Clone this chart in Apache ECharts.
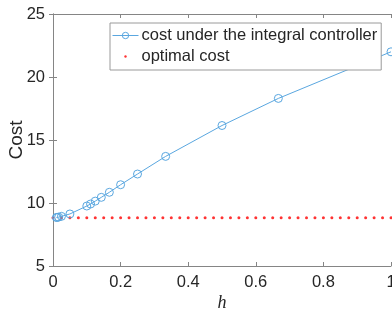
<!DOCTYPE html>
<html>
<head>
<meta charset="utf-8">
<script src="https://cdn.jsdelivr.net/npm/echarts@6/dist/echarts.min.js"></script>
<style>
  html, body { margin: 0; padding: 0; background: #fff; }
  #chart { width: 392px; height: 311px; }
</style>
</head>
<body>
<div id="chart"></div>
<script>
  // sample period h and the cost under the integral controller
  var hValues = [1, 0.6667, 0.5, 0.3333, 0.25, 0.2, 0.1667, 0.1429, 0.125, 0.1111, 0.1, 0.05, 0.025, 0.0167, 0.0125, 0.01]
  var costValues = [22.0, 18.3, 16.15, 13.7, 12.3, 11.45, 10.85, 10.45, 10.15, 9.92, 9.76, 9.13, 8.94, 8.88, 8.86, 8.85]

  // optimal cost, drawn as red dots along h
  var optimalCost = 8.83
  var optimalH = [0, 0.025, 0.05, 0.075, 0.1, 0.125, 0.15, 0.175, 0.2, 0.225, 0.25, 0.275, 0.3, 0.325, 0.35, 0.375,
    0.4, 0.425, 0.45, 0.475, 0.5, 0.525, 0.55, 0.575, 0.6, 0.625, 0.65, 0.675, 0.7, 0.725, 0.75, 0.775,
    0.8, 0.825, 0.85, 0.875, 0.9, 0.925, 0.95, 0.975, 1]

  var xTicks = [0, 0.2, 0.4, 0.6, 0.8, 1]
  var yTicks = [5, 10, 15, 20, 25]

  var textColor = '#262626'
  var axisColor = '#858585'
  var blue = '#5aa7e0'

  var chart = echarts.init(document.getElementById('chart'))

  var lineData = hValues.map(function (h, i) { return [h, costValues[i]] })
  var optData = optimalH.map(function (h) { return [h, optimalCost] })

  function axisBase() {
    return {
      type: 'value',
      axisLine: { show: true, lineStyle: { color: axisColor, width: 1 } },
      axisTick: { show: true, inside: true, length: 4, lineStyle: { color: axisColor } },
      splitLine: { show: false }
    }
  }

  var xBottom = axisBase()
  Object.assign(xBottom, {
    position: 'bottom',
    min: xTicks[0],
    max: xTicks[xTicks.length - 1],
    interval: 0.2,
    name: 'h',
    nameLocation: 'middle',
    nameGap: 28,
    nameMoveOverlap: false,
    nameTextStyle: { fontFamily: 'Liberation Serif', fontStyle: 'italic', fontSize: 18, color: textColor },
    axisLabel: {
      margin: 8,
      fontSize: 16.5,
      color: textColor,
      fontFamily: 'Liberation Sans',
      formatter: function (v) { return String(Math.round(v * 10) / 10) }
    }
  })
  var xTop = axisBase()
  Object.assign(xTop, {
    position: 'top',
    min: xTicks[0],
    max: xTicks[xTicks.length - 1],
    interval: 0.2,
    axisLabel: { show: false }
  })

  var yLeft = axisBase()
  Object.assign(yLeft, {
    position: 'left',
    min: yTicks[0],
    max: yTicks[yTicks.length - 1],
    interval: 5,
    name: 'Cost',
    nameLocation: 'middle',
    nameGap: 27,
    nameMoveOverlap: false,
    nameTextStyle: { fontSize: 19, color: textColor, fontFamily: 'Liberation Sans' },
    axisLabel: { margin: 8, fontSize: 16.5, color: textColor, fontFamily: 'Liberation Sans' }
  })
  var yRight = axisBase()
  Object.assign(yRight, {
    position: 'right',
    min: yTicks[0],
    max: yTicks[yTicks.length - 1],
    interval: 5,
    axisLabel: { show: false }
  })

  chart.setOption({
    backgroundColor: '#fff',
    animation: false,
    grid: { left: 53, right: 1, top: 14, bottom: 45, containLabel: false, outerBoundsMode: 'none' },
    legend: {
      left: 110,
      top: 23,
      orient: 'vertical',
      backgroundColor: '#fff',
      borderColor: '#9a9a9a',
      borderWidth: 1,
      borderRadius: 0,
      padding: [4, 4, 5, 2],
      itemGap: 4,
      itemWidth: 26,
      itemHeight: 8,
      lineStyle: { width: 1 },
      itemStyle: { borderWidth: 1 },
      textStyle: { fontSize: 16.5, color: textColor, fontFamily: 'Liberation Sans', padding: [0, 0, 0, -2] },
      data: [
        { name: 'cost under the integral controller' },
        {
          name: 'optimal cost',
          icon: 'path://M0,0M10,0M10,10M0,10M3.5,5A1.5,1.5,0,1,0,6.5,5A1.5,1.5,0,1,0,3.5,5Z'
        }
      ]
    },
    xAxis: [xBottom, xTop],
    yAxis: [yLeft, yRight],
    series: [
      {
        name: 'optimal cost',
        type: 'scatter',
        symbol: 'circle',
        symbolSize: 3,
        itemStyle: { color: '#ff0000' },
        data: optData,
        z: 2
      },
      {
        name: 'cost under the integral controller',
        type: 'line',
        symbol: 'circle',
        symbolSize: 8,
        showAllSymbol: true,
        lineStyle: { width: 1, color: blue },
        itemStyle: { color: 'rgba(255,255,255,0)', borderColor: blue, borderWidth: 1 },
        data: lineData,
        z: 3
      }
    ]
  })
</script>
</body>
</html>
